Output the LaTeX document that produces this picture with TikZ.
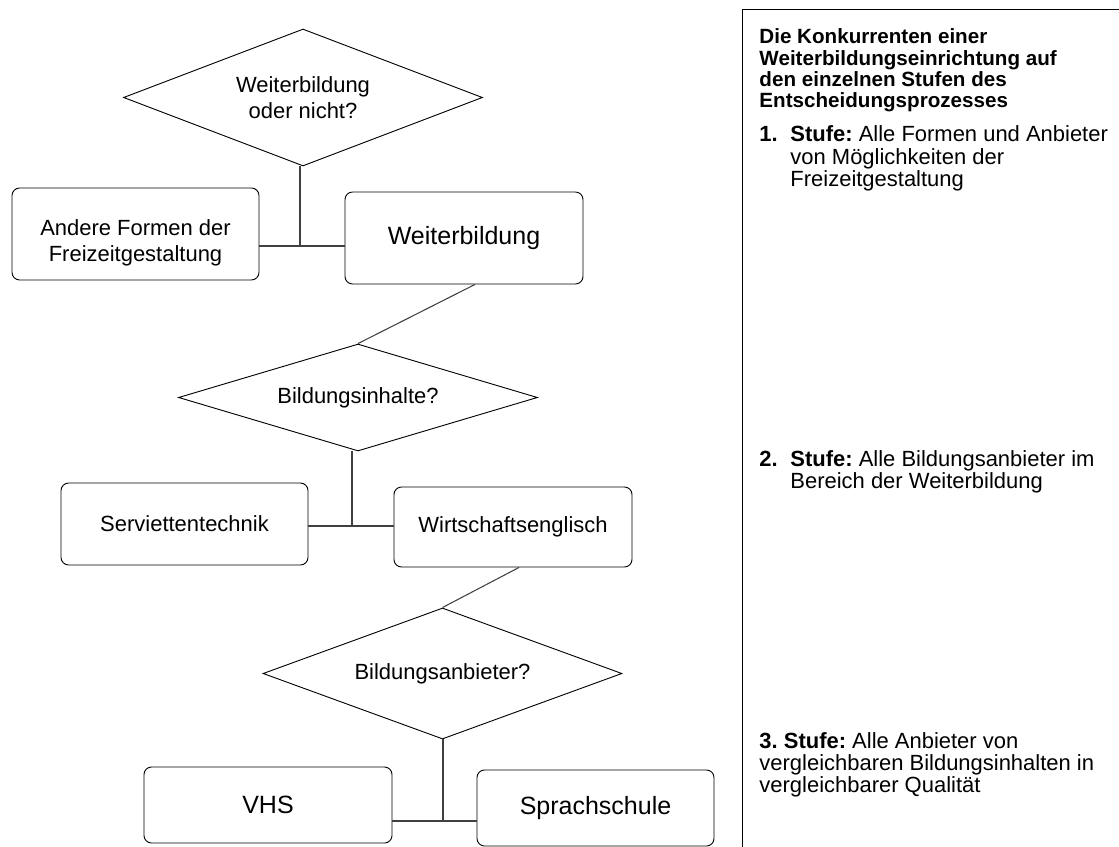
\documentclass[tikz,border=0pt]{standalone}
\usepackage{fontspec}
\setmainfont{Liberation Sans}
\usetikzlibrary{shapes.geometric,calc}
\frenchspacing

\tikzset{
  stufe/.style={draw, rounded corners=5pt, inner sep=0pt, align=center, font=\fontsize{14.5}{17}\selectfont},
  grossstufe/.style={stufe, font=\fontsize{16.5}{19}\selectfont},
  frage/.style={draw, diamond, aspect=2.6, inner sep=0pt, align=center, font=\fontsize{14.5}{17}\selectfont},
  linie/.style={draw=black!75, line width=0.7pt},
  randtext/.style={anchor=base west, inner sep=0pt, font=\fontsize{14.5}{13.86}\selectfont},
  randtitel/.style={randtext, font=\fontsize{13.6}{13.86}\selectfont\bfseries}
}

\begin{document}
\begin{tikzpicture}[x=0.66pt, y=-0.66pt, line width=0.6pt]
\useasboundingbox (0,0) rectangle (1119,847);

% Entscheidungsbaum
\node[frage, minimum width=236.9pt, minimum height=90.4pt] (frage1) at (303,97.5) {Weiterbildung\\oder nicht?};
\node[stufe, minimum width=163pt, minimum height=60.7pt] (andere) at (135.5,234) {\rule{0pt}{22.6pt}Andere Formen der\\Freizeitgestaltung};
\node[grossstufe, minimum width=157.1pt, minimum height=60.7pt] (weiter) at (464,238) {Weiterbildung};

\node[frage, minimum width=236.9pt, minimum height=70.6pt] (frage2) at (358,397.5) {Bildungsinhalte?};
\node[stufe, minimum width=163pt, minimum height=54.1pt] (serviette) at (184.5,524) {Serviettentechnik};
\node[stufe, minimum width=157.1pt, minimum height=52.8pt] (wirtschaft) at (513,527) {Wirtschaftsenglisch};

\node[frage, minimum width=236.9pt, minimum height=86.5pt] (frage3) at (442.5,673.5) {Bildungsanbieter?};
\node[grossstufe, minimum width=163.7pt, minimum height=50.2pt] (vhs) at (268,805) {VHS};
\node[grossstufe, minimum width=156.4pt, minimum height=50.2pt] (sprache) at (595.5,808) {Sprachschule};

% Verbindungen
\coordinate (knoten1) at (300,246);
\draw[linie] (knoten1 |- frage1.south) -- (knoten1);
\draw[linie] (andere.east |- knoten1) -- (weiter.west |- knoten1);
\draw[linie] ($(weiter.south)+(11,0)$) -- (frage2.north);

\coordinate (knoten2) at (352,526);
\draw[linie] (knoten2 |- frage2.south) -- (knoten2);
\draw[linie] (serviette.east |- knoten2) -- (wirtschaft.west |- knoten2);
\draw[linie] ($(wirtschaft.south)+(6,0)$) -- (frage3.north);

\coordinate (knoten3) at (443,821);
\draw[linie] (knoten3 |- frage3.south) -- (knoten3);
\draw[linie] (vhs.east |- knoten3) -- (sprache.west |- knoten3);

% Randspalte
\coordinate (rand) at (742,9);
\draw (rand |- 0,847) -- (rand) -- (1119,9);

\node[randtitel] (titel) at (759,44) {\begin{tabular}[t]{@{}l@{}}Die Konkurrenten einer\\Weiterbildungseinrichtung auf\\den einzelnen Stufen des\\Entscheidungsprozesses\end{tabular}};

\node[randtext] (nr1) at (759,142) {\textbf{1.}};
\node[randtext] (stufe1) at (790,142) {\begin{tabular}[t]{@{}l@{}}\textbf{Stufe:} Alle Formen und Anbieter\\von Möglichkeiten der\\Freizeitgestaltung\end{tabular}};

\node[randtext] (nr2) at (759,466) {\textbf{2.}};
\node[randtext] (stufe2) at (790,466) {\begin{tabular}[t]{@{}l@{}}\textbf{Stufe:} Alle Bildungsanbieter im\\Bereich der Weiterbildung\end{tabular}};

\node[randtext] (stufe3) at (759,748) {\begin{tabular}[t]{@{}l@{}}\textbf{3. Stufe:} Alle Anbieter von\\vergleichbaren Bildungsinhalten in\\vergleichbarer Qualität\end{tabular}};
\end{tikzpicture}
\end{document}
